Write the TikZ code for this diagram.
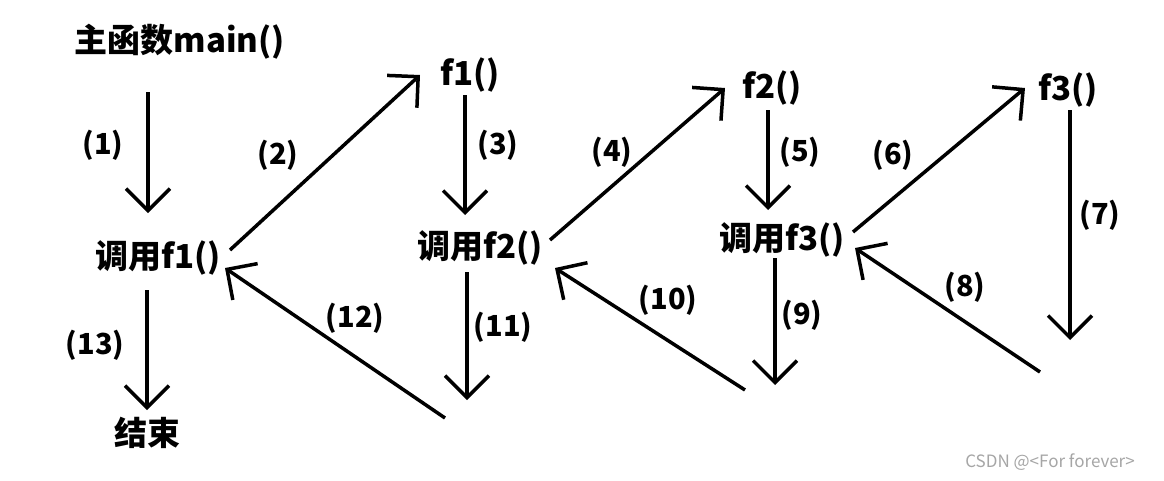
\documentclass[tikz,border=0pt]{standalone}
\usepackage{fontspec}
\setmainfont{Noto Sans CJK SC}
\usetikzlibrary{arrows.meta}
\begin{document}
\begin{tikzpicture}[x=1pt,y=-1pt,
  t/.style={font=\fontsize{33}{34}\selectfont\bfseries,inner sep=0pt},
  lab/.style={font=\fontsize{29}{30}\selectfont\bfseries,inner sep=0pt},
  ar/.style={line width=3.5pt,-{Straight Barb[length=22pt,width=44pt,line width=3.5pt]}}]
\useasboundingbox[fill=white] (0,0) rectangle (1164,480);
\node[t] (main) at (180,42) {主函数main()};
\node[t] (f1) at (470,75) {f1()};
\node[t] (f2) at (772,88) {f2()};
\node[t] (f3) at (1068,90) {f3()};
\node[t] (c1) at (158,258) {调用f1()};
\node[t] (c2) at (480,248) {调用f2()};
\node[t] (c3) at (782,240) {调用f3()};
\node[t] (end) at (147,433) {结束};
\coordinate (e11) at (467,400); \coordinate (e9) at (775,385); \coordinate (e7) at (1070,340);
\coordinate (s12) at (445,418); \coordinate (s10) at (745,390); \coordinate (s8) at (1040,372);
\draw[ar] (148,92) -- (148,213);
\draw[ar] (230,250) -- (420,75);
\draw[ar] (465,95) -- (465,215);
\draw[ar] (550,240) -- (725,88);
\draw[ar] (768,110) -- (768,210);
\draw[ar] (853,232) -- (1025,88);
\draw[ar] (1070,110) -- (e7);
\draw[ar] (s8) -- (855,248);
\draw[ar] (775,258) -- (e9);
\draw[ar] (s10) -- (555,268);
\draw[ar] (467,272) -- (e11);
\draw[ar] (s12) -- (225,268);
\draw[ar] (147,290) -- (147,410);
\node[lab] at (103,145) {(1)};
\node[lab] at (278,155) {(2)};
\node[lab] at (498,145) {(3)};
\node[lab] at (612,152) {(4)};
\node[lab] at (800,152) {(5)};
\node[lab] at (893,155) {(6)};
\node[lab] at (1100,215) {(7)};
\node[lab] at (965,287) {(8)};
\node[lab] at (802,315) {(9)};
\node[lab] at (668,300) {(10)};
\node[lab] at (503,327) {(11)};
\node[lab] at (355,318) {(12)};
\node[lab] at (95,345) {(13)};
\node[font=\fontsize{17}{18}\selectfont,text=gray!70,inner sep=0pt] at (1050,462) {CSDN @<For forever>};
\end{tikzpicture}
\end{document}
